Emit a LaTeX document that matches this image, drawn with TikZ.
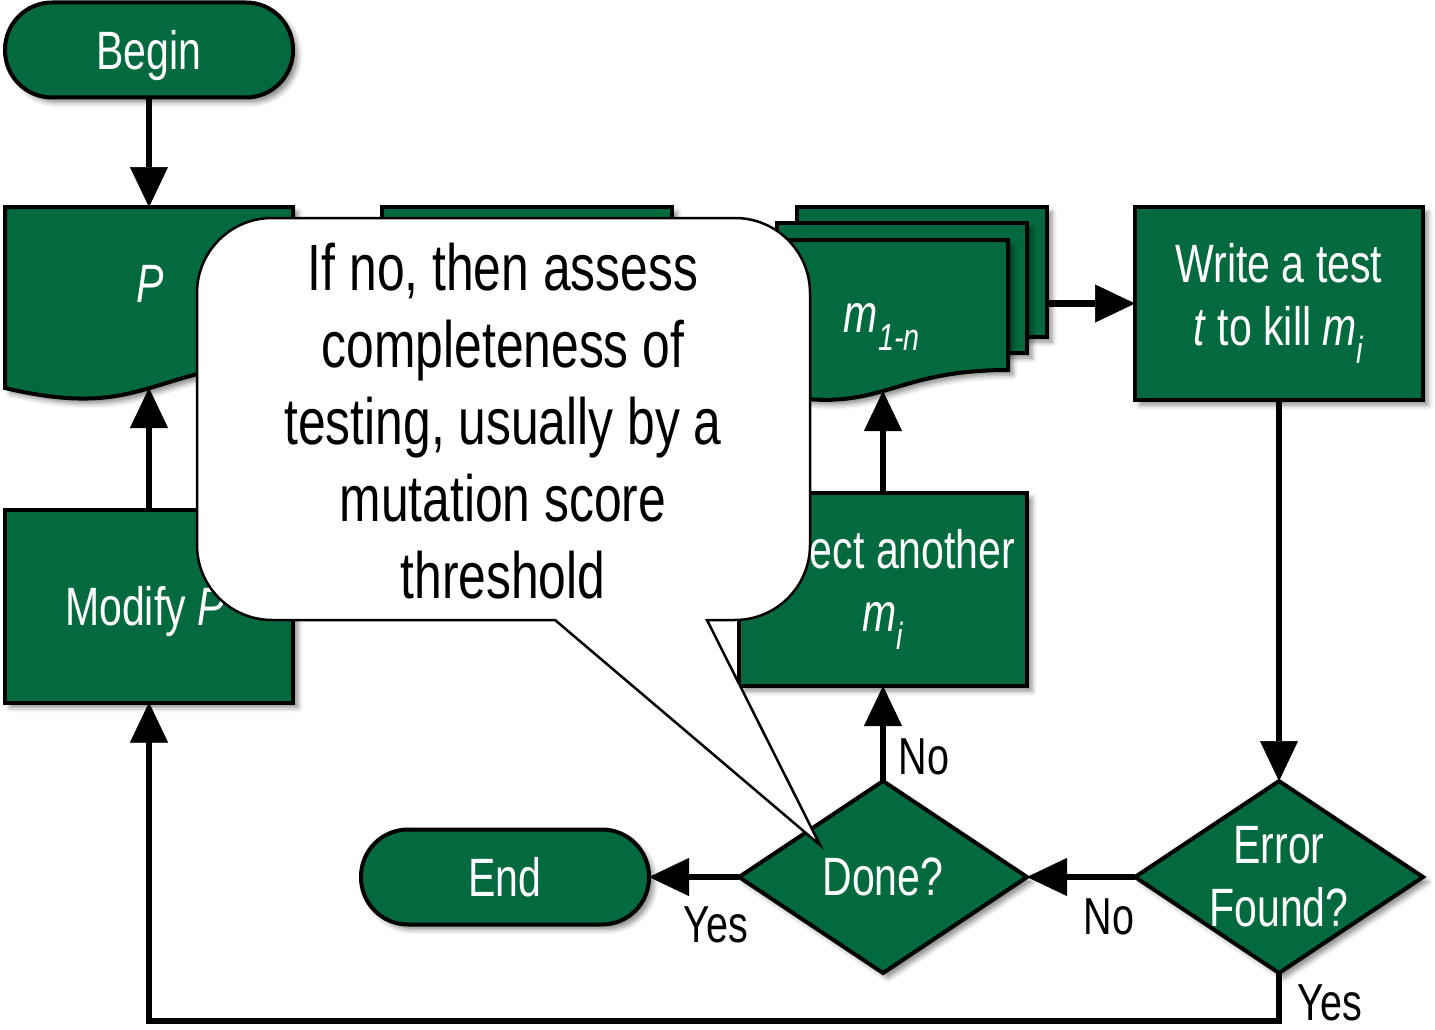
\documentclass[tikz,border=0pt]{standalone}
\usepackage{fontspec}
\setmainfont{Liberation Sans}[FakeStretch=0.76]
\usetikzlibrary{arrows.meta,shapes.geometric,shadows.blur}
\definecolor{flowgreen}{RGB}{3,106,63}
\newcommand\chartfont{\fontsize{54}{63}\selectfont}
\newcommand\edgefont{\fontsize{52}{60}\selectfont}
\newcommand\bubblefont{\fontsize{65.5}{77}\selectfont}
\begin{document}
\begin{tikzpicture}[x=1pt,y=-1pt,
  dropshade/.style={blur shadow={shadow xshift=5pt,shadow yshift=-5pt,shadow blur radius=5pt,shadow opacity=45}},
  greenshape/.style={draw=black,line width=4pt,fill=flowgreen,dropshade},
  greenbox/.style={greenshape,text=white,inner sep=0pt,outer sep=0pt,font=\chartfont,align=center},
  procbox/.style={greenbox,rectangle,minimum width=288pt,minimum height=193pt},
  terminal/.style={greenbox,rectangle,rounded corners=47pt,minimum width=288pt,minimum height=95pt,text depth=0pt},
  decision/.style={greenbox,diamond,minimum width=288pt,minimum height=192pt},
  innertext/.style={text=white,font=\chartfont,inner sep=0pt,align=center},
  flow/.style={draw=black,line width=6.5pt,
    -{Triangle[length=40pt,width=38pt,line width=0.5pt,fill=black,color=black]}},
  edgelabel/.style={font=\edgefont,inner sep=0pt,text depth=0pt},
  bubble/.style={fill=white,draw=black,line width=2.5pt,line join=miter},
]
\useasboundingbox (0,0) rectangle (1435,1030);

% start terminal
\node[terminal] (begin) at (149,50) {Begin};

% program document P
\path[greenshape] (5,207) -- (293,207) -- (293,363)
  .. controls (149,363) and (149,422) .. (5,388) -- cycle;
\node[innertext] (ptext) at (150,284) {\textit{P}};
\coordinate (ptop) at (149,207);
\coordinate (pbottom) at (149,388);

% process box behind the note
\path[greenshape] (382,207) rectangle (672,400);

% stack of mutant documents
\path[greenshape] (797,207) rectangle (1047,337);
\path[greenshape] (777,223) rectangle (1027,353);
\path[greenshape] (757,240) -- (1008,240) -- (1008,370)
  .. controls (882.5,370) and (882.5,419.5) .. (757,391) -- cycle;
\node[innertext] (mtext) at (882,327) {\textit{m}\textsubscript{\textit{1-n}}};
\coordinate (mright) at (1047,303.5);
\coordinate (mbottom) at (883,391);

% process boxes
\node[procbox] (write) at (1279,303.5) {Write a test\\\textit{t} to kill \textit{m}\textsubscript{\textit{i}}};
\node[procbox] (select) at (883,589.5) {Select another\\\textit{m}\textsubscript{\textit{i}}};
\node[procbox,text depth=0pt] (modify) at (149,606) {Modify \textit{P}\hspace*{8pt}};

% decisions and end
\node[decision,label={[innertext]center:{Error\\Found?}}] (error) at (1279,877) {};
\node[decision,text depth=0pt] (done) at (883,877) {Done?};
\node[terminal] (end) at (505,877) {End};
\coordinate (loopcorner) at (1279,1021);

% connectors
\draw[flow] (begin) -- (ptop);
\draw[flow] (modify) -- (pbottom);
\draw[flow] (select) -- (mbottom);
\draw[flow] (mright) -- (write);
\draw[flow] (write) -- (error);
\draw[flow] (error) -- (done);
\draw[flow] (done) -- (end);
\draw[flow] (done) -- (select);
\draw[flow] (error.south) -- (loopcorner) -| (modify.south);

% branch labels
\node[edgelabel] (lnoup) at (924,757) {No};
\node[edgelabel] (lyesend) at (716,925) {Yes};
\node[edgelabel] (lnoleft) at (1109,917) {No};
\node[edgelabel] (lyesloop) at (1330,1003) {Yes};

% note callout
\path[bubble] (707,620) -- (735,620) arc[start angle=90,end angle=0,radius=75]
  -- (810,293) arc[start angle=0,end angle=-90,radius=75]
  -- (272,218) arc[start angle=-90,end angle=-180,radius=75]
  -- (197,545) arc[start angle=180,end angle=90,radius=75]
  -- (555,620) -- (820,845) -- cycle;
\node[font=\bubblefont,align=center,inner sep=0pt] (note) at (503,421)
  {If no, then assess\\completeness of\\testing, usually by a\\mutation score\\threshold};
\end{tikzpicture}
\end{document}
